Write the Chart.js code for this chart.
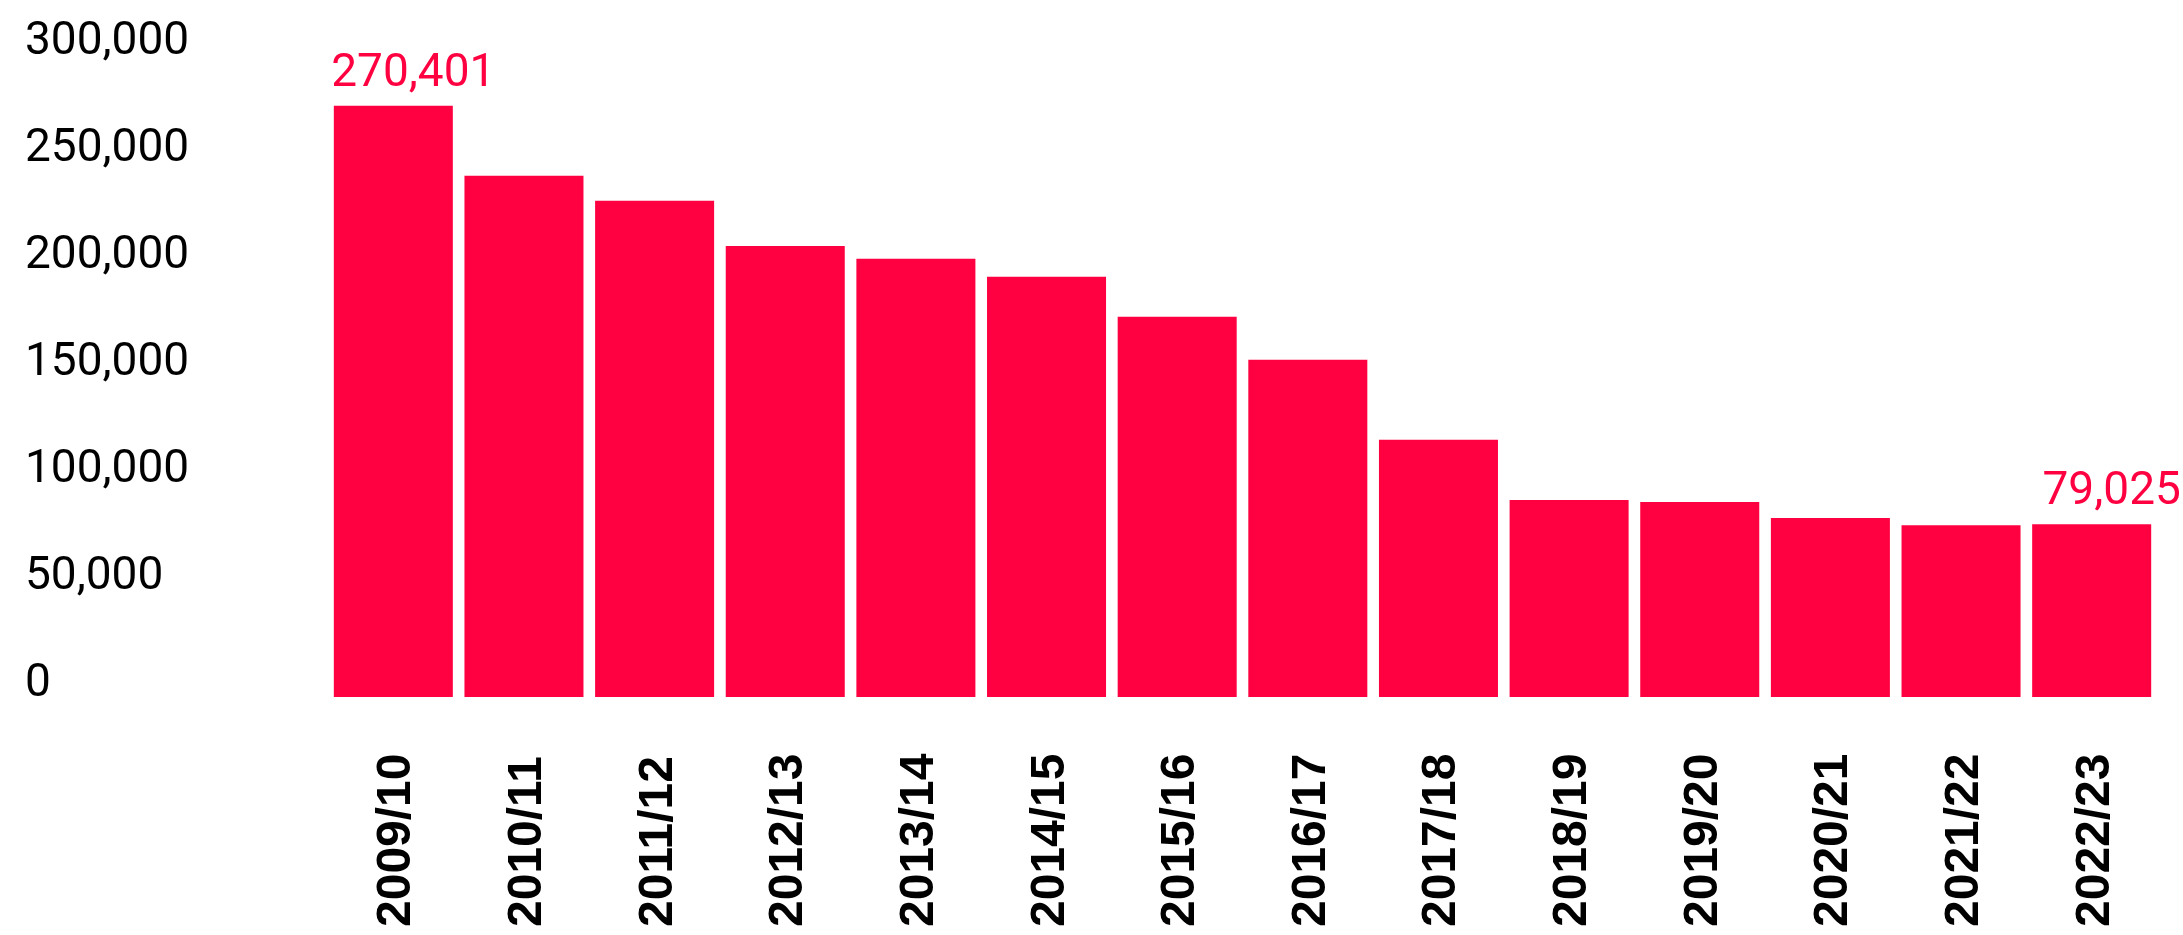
<!DOCTYPE html>
<html>
<head>
<meta charset="utf-8">
<script src="https://cdn.jsdelivr.net/npm/chart.js@4"></script>
<style>
  html, body { margin:0; padding:0; background:#fff; }
  #wrap { width:2183px; height:935px; position:relative; }
</style>
</head>
<body>
<div id="wrap"><canvas id="chart"></canvas></div>
<script>
// --- Data ---
const years = ["2009/10","2010/11","2011/12","2012/13","2013/14","2014/15","2015/16","2016/17","2017/18","2018/19","2019/20","2020/21","2021/22","2022/23"];
const values = [270401, 238400, 226900, 206300, 200400, 192200, 173900, 154200, 117600, 90100, 89200, 81900, 78600, 79025];
const labelled = [0, 13];          // bars that carry a value label
const yTicks = [0, 50000, 100000, 150000, 200000, 250000, 300000];

const RED = '#ff0040';
const fmt = v => Number(v).toLocaleString('en-US');

// --- Labels drawn on top of the library's geometry ---
const labelsPlugin = {
  id: 'labels',
  afterDatasetsDraw(chart){
    const ctx = chart.ctx;
    const bars = chart.getDatasetMeta(0).data;
    ctx.save();
    // value labels over first and last bar
    ctx.fillStyle = RED;
    ctx.font = '46px Roboto';
    ctx.textAlign = 'center';
    ctx.textBaseline = 'alphabetic';
    labelled.forEach(i => {
      const b = bars[i];
      ctx.fillText(fmt(values[i]), b.x + 20, b.y - 20);
    });
    // rotated category labels, starting from the bottom
    const xs = chart.scales.x;
    ctx.fillStyle = '#000';
    ctx.font = 'bold 48px "Liberation Sans"';
    ctx.textAlign = 'left';
    years.forEach((y, i) => {
      const x = xs.getPixelForValue(i);
      ctx.save();
      ctx.translate(x + 17, 927);
      ctx.rotate(-Math.PI/2);
      ctx.fillText(y, 0, 0);
      ctx.restore();
    });
    ctx.restore();
  }
};

new Chart(document.getElementById('chart'), {
  type: 'bar',
  data: {
    labels: years,
    datasets: [{ data: values, backgroundColor: RED, borderWidth: 0, categoryPercentage: 1, barPercentage: 0.911 }]
  },
  options: {
    responsive: true,
    maintainAspectRatio: false,
    animation: false,
    devicePixelRatio: 1,
    layout: { padding: { left: 25, right: 26, top: 41, bottom: 0 } },
    plugins: { legend: { display:false }, tooltip: { enabled:false } },
    scales: {
      x: {
        grid: { display:false }, border: { display:false },
        ticks: { display:false },
        afterFit: s => { s.height = 238; }
      },
      y: { min: 0, max: 300000, display: false },
      // label axis: the printed tick labels sit a little tighter than the bars' scale
      yl: {
        position: 'left',
        min: -5840, max: 300560,
        grid: { display:false }, border: { display:false },
        afterBuildTicks: s => { s.ticks = yTicks.map(v => ({ value: v })); },
        afterFit: s => { s.width = 303; },
        ticks: {
          crossAlign: 'far',
          color: '#000',
          font: { family: 'Roboto', size: 46 },
          callback: v => fmt(v)
        }
      }
    }
  },
  plugins: [labelsPlugin]
});
</script>
</body>
</html>
